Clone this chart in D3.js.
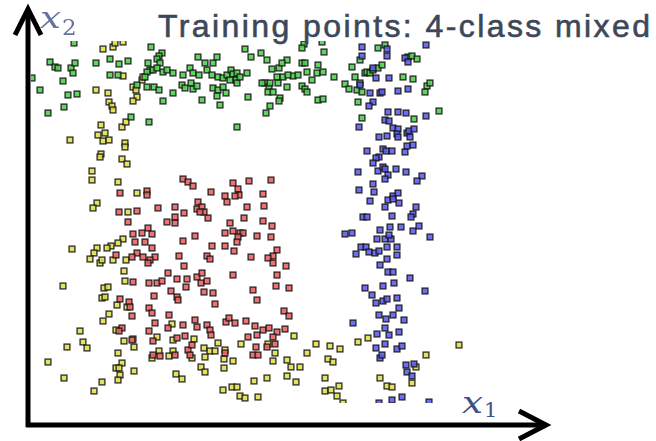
<!DOCTYPE html>
<html>
<head>
<meta charset="utf-8">
<script src="https://cdn.jsdelivr.net/npm/d3@7/dist/d3.min.js"></script>
<style>
  html, body { margin: 0; padding: 0; background: #fff; }
  svg { display: block; }
</style>
</head>
<body>
<svg id="chart" width="656" height="441"></svg>
<script>
// Training points (x1, x2) for each of the four classes
const classGreen = [
  [0.46,3.82],[0.04,3.47],[0.22,3.63],[0.27,3.58],[0.30,3.57],[0.43,3.57],[0.47,3.62],[0.45,3.52],
  [0.35,3.44],[0.12,3.35],[0.40,3.30],[0.49,3.31],[0.36,3.18],[0.20,3.12],[0.68,3.62],[0.82,3.66],
  [0.91,3.61],[1.00,3.64],[0.82,3.50],[0.90,3.50],[1.23,3.78],[1.34,3.72],[1.31,3.69],[1.29,3.66],
  [1.20,3.62],[1.32,3.62],[1.22,3.55],[1.25,3.55],[1.29,3.57],[1.35,3.53],[1.39,3.55],[1.45,3.52],
  [1.19,3.53],[1.17,3.48],[1.09,3.40],[1.19,3.38],[1.26,3.38],[1.31,3.35],[1.35,3.24],[1.45,3.32],
  [1.55,3.50],[1.62,3.57],[1.65,3.52],[1.70,3.68],[1.77,3.62],[1.85,3.62],[1.89,3.68],[1.71,3.50],
  [1.79,3.55],[1.84,3.50],[1.54,3.40],[1.57,3.37],[1.63,3.42],[1.65,3.36],[1.69,3.39],[1.85,3.37],
  [1.90,3.35],[1.95,3.38],[1.98,3.32],[1.74,3.25],[1.89,3.29],[1.92,3.20],[1.90,3.48],[1.95,3.47],
  [1.99,3.50],[2.03,3.55],[2.05,3.51],[2.09,3.52],[2.08,3.45],[2.19,3.52],[2.02,3.45],[2.09,3.42],
  [2.17,3.76],[2.23,3.68],[2.33,3.72],[2.39,3.65],[2.20,3.28],[2.44,3.56],[2.51,3.57],[2.49,3.48],
  [2.55,3.48],[2.59,3.65],[2.54,3.62],[2.37,3.42],[2.41,3.38],[2.40,3.33],[2.45,3.33],[2.52,3.27],
  [2.51,3.24],[2.42,3.19],[2.38,3.12],[2.59,3.38],[2.65,3.49],[2.70,3.50],[2.74,3.62],[2.77,3.62],
  [2.74,3.39],[2.77,3.36],[2.84,3.45],[2.89,3.52],[2.90,3.60],[2.95,3.53],[2.96,3.73],[2.76,3.81],
  [2.74,3.77],[2.90,3.25],[2.95,3.26],[2.94,3.83],[2.12,3.48],[2.42,3.42],[2.50,3.42],[2.60,3.50],
  [2.79,3.33],[2.79,3.53],[2.34,3.42],[3.06,3.48],[3.17,3.41],[3.24,3.58],[3.27,3.48],[3.29,3.35],
  [3.32,3.42],[3.34,3.33],[3.37,3.52],[3.39,3.53],[3.42,3.52],[3.45,3.55],[3.50,3.57],[3.54,3.60],
  [3.57,3.80],[3.50,3.77],[3.30,3.23],[3.32,3.65],[3.75,3.48],[3.85,3.46],[3.80,3.68],[3.84,3.69],
  [3.89,3.66],[3.99,3.39],[3.97,3.33],[4.02,3.42],[3.21,3.36],[3.34,3.07],[3.86,3.06],[4.11,3.14],
  [1.03,3.08],[1.21,3.03],[2.09,2.98]
];

const classBlue = [
  [3.34,3.78],[3.34,3.69],[3.32,3.40],[3.42,3.32],[3.45,3.23],[3.41,3.19],[3.45,3.57],[3.48,3.47],
  [3.52,3.32],[3.61,3.47],[3.70,3.34],[3.80,3.36],[3.59,3.76],[3.59,3.69],[3.54,3.33],[3.77,3.67],
  [3.80,3.63],[3.98,3.80],[3.60,3.13],[3.70,3.13],[3.78,3.12],[3.98,3.09],[3.57,3.05],[3.61,3.04],
  [3.31,2.98],[3.65,2.97],[3.70,2.96],[3.69,2.91],[3.70,2.88],[3.79,2.92],[3.81,2.94],[3.86,2.96],
  [3.82,2.88],[3.51,2.88],[3.59,2.89],[3.39,2.74],[3.55,2.76],[3.58,2.74],[3.64,2.74],[3.77,2.73],
  [3.79,2.79],[3.85,2.80],[3.51,2.68],[3.48,2.67],[3.45,2.62],[3.30,2.53],[3.50,2.54],[3.55,2.58],
  [3.57,2.56],[3.68,2.56],[3.78,2.53],[3.94,2.49],[3.89,2.44],[3.60,2.50],[3.57,2.46],[3.31,2.35],
  [3.45,2.41],[3.46,2.33],[3.42,2.24],[3.60,2.25],[3.65,2.29],[3.70,2.32],[3.71,2.22],[3.65,2.26],
  [3.57,2.18],[3.88,2.18],[3.85,2.11],[3.83,2.08],[3.64,2.09],[3.35,2.08],[3.39,2.08],[3.52,1.95],
  [3.62,1.98],[3.73,1.98],[3.85,1.94],[3.91,1.99],[4.02,1.88],[3.17,1.91],[3.24,1.92],[3.49,1.86],
  [3.57,1.86],[3.63,1.86],[3.61,1.90],[3.33,1.78],[3.38,1.78],[3.28,1.71],[3.41,1.73],[3.47,1.72],
  [3.51,1.74],[3.59,1.78],[3.69,1.78],[3.69,1.70],[3.59,1.66],[3.52,1.60],[3.60,1.53],[3.65,1.53],
  [3.82,1.47],[3.97,1.34],[3.66,1.42],[3.55,1.39],[3.37,1.37],[3.44,1.30],[3.48,1.22],[3.55,1.24],
  [3.59,1.26],[3.69,1.27],[3.71,1.17],[3.65,1.10],[3.51,1.10],[3.58,1.06],[3.76,1.05],[3.25,1.02],
  [3.57,0.97],[3.61,0.90],[3.71,0.93],[3.49,0.91],[3.57,0.81],[3.48,0.77],[3.52,0.67],[3.54,0.70],
  [3.69,0.76],[3.74,0.79],[3.78,0.60],[3.86,0.61],[3.79,0.53],[3.84,0.49],[3.74,0.28],[3.64,0.25],
  [3.51,0.22],[4.01,0.23]
];

const classRed = [
  [0.92,2.32],[1.19,2.34],[1.19,2.30],[0.91,2.13],[1.09,2.14],[1.00,2.03],[1.30,2.17],[1.47,2.18],
  [1.56,2.12],[1.47,2.08],[1.47,2.02],[1.39,2.03],[1.55,2.46],[1.60,2.43],[1.65,2.39],[1.83,2.33],
  [1.70,2.23],[1.69,2.16],[1.74,2.18],[1.76,2.13],[1.72,2.13],[1.80,2.07],[2.05,2.42],[2.10,2.36],
  [2.11,2.30],[2.07,2.29],[1.97,2.29],[1.99,2.23],[2.21,2.44],[2.43,2.45],[2.35,2.31],[2.36,2.19],
  [2.19,2.18],[2.16,2.07],[2.02,2.02],[2.05,1.94],[2.12,1.92],[2.15,1.92],[2.10,1.88],[2.09,1.83],
  [1.97,1.92],[1.97,1.79],[1.84,1.79],[1.67,1.89],[1.55,1.84],[1.51,1.69],[1.79,1.69],[2.29,1.89],
  [2.35,2.04],[2.44,1.99],[2.43,1.88],[2.49,1.75],[2.45,1.69],[2.40,1.67],[2.23,1.68],[1.20,1.97],
  [1.24,1.91],[1.14,1.92],[1.05,1.91],[1.07,1.83],[1.17,1.83],[1.24,1.77],[1.09,1.72],[1.04,1.68],
  [1.15,1.68],[1.27,1.68],[0.88,1.70],[2.06,1.74],[1.56,1.59],[1.22,1.65],[1.20,1.62],[1.82,1.66],
  [2.45,1.62],[1.05,1.43],[0.92,1.26],[1.01,1.23],[1.02,1.18],[1.04,1.09],[0.94,0.97],[0.91,0.94],
  [1.04,0.85],[1.21,1.42],[1.29,1.42],[1.34,1.44],[1.26,1.29],[1.40,1.52],[1.43,1.34],[1.49,1.46],
  [1.49,1.28],[1.50,1.25],[1.59,1.46],[1.58,1.38],[1.69,1.48],[1.74,1.52],[1.73,1.42],[1.79,1.44],
  [1.76,1.33],[1.85,1.32],[1.87,1.21],[1.21,1.17],[1.24,1.12],[1.41,1.10],[1.27,1.02],[1.21,0.94],
  [1.25,0.84],[1.40,0.97],[1.49,0.87],[1.55,1.00],[1.67,1.05],[1.69,0.98],[1.79,1.00],[1.82,0.95],
  [1.83,0.90],[1.57,0.89],[1.60,0.75],[1.64,0.80],[1.62,0.70],[1.47,0.70],[1.32,0.69],[1.25,0.70],
  [1.98,1.03],[2.01,1.07],[2.07,1.02],[2.18,1.04],[2.27,0.99],[2.35,0.95],[2.41,0.97],[2.49,0.93],
  [2.45,0.88],[2.47,0.81],[2.20,0.88],[2.29,0.90],[1.97,0.72],[2.25,0.70],[2.30,0.70],[2.28,0.78],
  [2.39,0.78],[2.05,1.50],[2.49,1.50],[2.48,1.39],[2.25,1.35],[2.29,1.25],[2.58,1.59],[2.61,1.37],
  [2.56,1.14],[2.61,1.09],[2.57,0.96]
];

const classYellow = [
  [0.75,3.76],[0.85,3.78],[0.87,3.82],[0.95,3.83],[0.95,3.49],[0.68,3.35],[0.80,3.32],[0.81,3.23],
  [0.84,3.19],[0.85,3.15],[1.05,3.38],[1.08,3.35],[1.09,3.28],[1.05,3.24],[1.14,3.45],[1.15,3.48],
  [0.73,3.00],[0.70,2.90],[0.77,2.92],[0.75,2.84],[0.81,2.85],[0.94,2.98],[0.98,3.03],[0.42,2.85],
  [0.97,2.82],[0.97,2.78],[0.73,2.71],[0.72,2.68],[0.94,2.66],[0.99,2.61],[0.64,2.54],[0.64,2.45],
  [0.90,2.43],[1.09,2.32],[0.69,2.22],[0.65,2.17],[1.00,2.13],[0.95,1.86],[0.90,1.82],[0.83,1.79],
  [0.79,1.77],[0.69,1.77],[0.66,1.72],[0.44,1.76],[0.62,1.66],[0.72,1.62],[0.74,1.65],[0.85,1.65],
  [0.98,1.65],[0.96,1.54],[0.97,1.44],[0.35,1.39],[0.76,1.37],[0.80,1.38],[0.74,1.27],[0.77,1.28],
  [0.89,1.20],[0.99,1.18],[0.81,1.11],[0.75,1.04],[0.52,0.94],[0.55,0.83],[0.59,0.77],[0.39,0.78],
  [0.88,0.95],[0.96,0.84],[1.05,0.86],[1.06,0.78],[0.90,0.72],[0.94,0.62],[0.88,0.57],[0.91,0.57],
  [0.92,0.50],[0.90,0.45],[1.06,0.54],[0.20,0.63],[0.36,0.47],[0.74,0.43],[0.66,0.34],[1.44,1.01],
  [1.29,0.88],[1.45,0.85],[1.66,0.86],[1.31,0.74],[1.45,0.74],[1.41,0.69],[1.24,0.67],[1.64,0.67],
  [1.76,0.77],[1.82,0.74],[1.87,0.74],[1.90,0.82],[1.97,0.75],[1.77,0.68],[1.73,0.58],[1.77,0.53],
  [1.96,0.66],[1.96,0.57],[2.05,0.64],[2.13,0.81],[1.48,0.51],[1.54,0.46],[1.95,0.35],[2.04,0.38],
  [2.09,0.38],[2.12,0.29],[2.17,0.27],[2.30,0.28],[2.26,0.44],[2.39,0.47],[2.47,0.72],[2.45,0.64],
  [2.40,0.81],[2.66,0.89],[2.88,0.81],[3.02,0.79],[3.12,0.76],[3.30,0.83],[3.40,0.87],[2.79,0.72],
  [3.00,0.66],[3.05,0.63],[2.59,0.65],[2.63,0.58],[2.72,0.58],[2.59,0.49],[2.68,0.43],[2.97,0.47],
  [3.11,0.39],[2.97,0.34],[3.03,0.35],[3.09,0.29],[3.15,0.22],[3.52,0.47],[3.59,0.39],[3.64,0.38],
  [3.88,0.58],[3.84,0.42],[3.98,0.70],[4.31,0.80]
];

const classes = [
  { name: "yellow", points: classYellow, color: "#dfdf48" },
  { name: "red",    points: classRed,    color: "#ee5f5f" },
  { name: "green",  points: classGreen,  color: "#4ccf4c" },
  { name: "blue",   points: classBlue,   color: "#5a5af0" }
];

const titleText = "Training points: 4-class mixed";
const xLabel = "x", xSub = "1";
const yLabel = "x", ySub = "2";

// visible data window of the scatter
const x1Window = [0.03, 4.6];
const x2Window = [0.22, 3.84];

const svg = d3.select("#chart");

const x = d3.scaleLinear().domain([0, 5]).range([28, 528]);
const y = d3.scaleLinear().domain([0, 4]).range([425, 25]);

const defs = svg.append("defs");
defs.append("clipPath").attr("id", "plotClip")
  .append("rect")
  .attr("x", x(x1Window[0])).attr("y", y(x2Window[1]))
  .attr("width", x(x1Window[1]) - x(x1Window[0]))
  .attr("height", y(x2Window[0]) - y(x2Window[1]));

defs.append("filter").attr("id", "soft")
  .attr("x", "-5%").attr("y", "-5%").attr("width", "110%").attr("height", "110%")
  .append("feGaussianBlur").attr("stdDeviation", 0.45);

defs.append("filter").attr("id", "softText")
  .attr("x", "-20%").attr("y", "-20%").attr("width", "140%").attr("height", "140%")
  .append("feGaussianBlur").attr("stdDeviation", 0.5);

// scatter markers
const size = 5.8;
const plot = svg.append("g").attr("clip-path", "url(#plotClip)")
  .append("g").attr("filter", "url(#soft)");

classes.forEach(c => {
  plot.append("g").attr("class", "cls-" + c.name)
    .selectAll("rect")
    .data(c.points)
    .join("rect")
    .attr("x", d => x(d[0]) - size / 2)
    .attr("y", d => y(d[1]) - size / 2)
    .attr("width", size)
    .attr("height", size)
    .attr("fill", c.color)
    .attr("fill-opacity", 0.88)
    .attr("stroke", "#151515")
    .attr("stroke-opacity", 0.85)
    .attr("stroke-width", 1.4);
});

// axes drawn as thick arrows
const axes = svg.append("g")
  .attr("stroke", "#000").attr("stroke-width", 5).attr("fill", "none")
  .attr("stroke-linecap", "butt");

const x0 = x(0), y0 = y(0);
const xEnd = x(5.19), yEnd = y(4.17);

axes.append("line").attr("x1", x0).attr("y1", y0 + 2).attr("x2", x0).attr("y2", yEnd + 2);
axes.append("polyline")
  .attr("stroke-linejoin", "miter")
  .attr("points", [[x0 - 13, yEnd + 27], [x0, yEnd + 1], [x0 + 13, yEnd + 27]].join(" "));

axes.append("line").attr("x1", x0 - 2).attr("y1", y0).attr("x2", xEnd - 2).attr("y2", y0);
axes.append("polyline")
  .attr("stroke-linejoin", "miter")
  .attr("points", [[xEnd - 28, y0 - 14], [xEnd - 1, y0], [xEnd - 28, y0 + 14]].join(" "));

// axis labels: italic variable with an upright subscript
const labelColor = "#3f5088";
const serif = "'DejaVu Serif', 'Liberation Serif', serif";

function axisLabel(g, varText, subText, vx, vy, sx, sy, subSize) {
  g.append("text")
    .attr("x", vx).attr("y", vy)
    .attr("font-family", serif).attr("font-style", "italic").attr("font-size", 29)
    .attr("textLength", 21).attr("lengthAdjust", "spacingAndGlyphs")
    .text(varText);
  g.append("text")
    .attr("x", sx).attr("y", sy)
    .attr("font-family", serif).attr("font-size", subSize)
    .text(subText);
}

const xlg = svg.append("g").attr("fill", labelColor);
axisLabel(xlg, xLabel, xSub, 462, 413, 484, 417, 21);

const ylg = svg.append("g").attr("fill", labelColor).attr("opacity", 0.8)
  .attr("filter", "url(#softText)");
axisLabel(ylg, yLabel, ySub, 40, 28, 62, 35, 23);

// title
svg.append("text")
  .attr("x", 650).attr("y", 37)
  .attr("text-anchor", "end")
  .attr("fill", "#3c4859")
  .attr("stroke", "#3c4859").attr("stroke-width", 0.6)
  .attr("font-family", "'Liberation Sans', Arial, sans-serif")
  .attr("font-size", 32)
  .attr("textLength", 492)
  .attr("lengthAdjust", "spacing")
  .text(titleText);
</script>
</body>
</html>
